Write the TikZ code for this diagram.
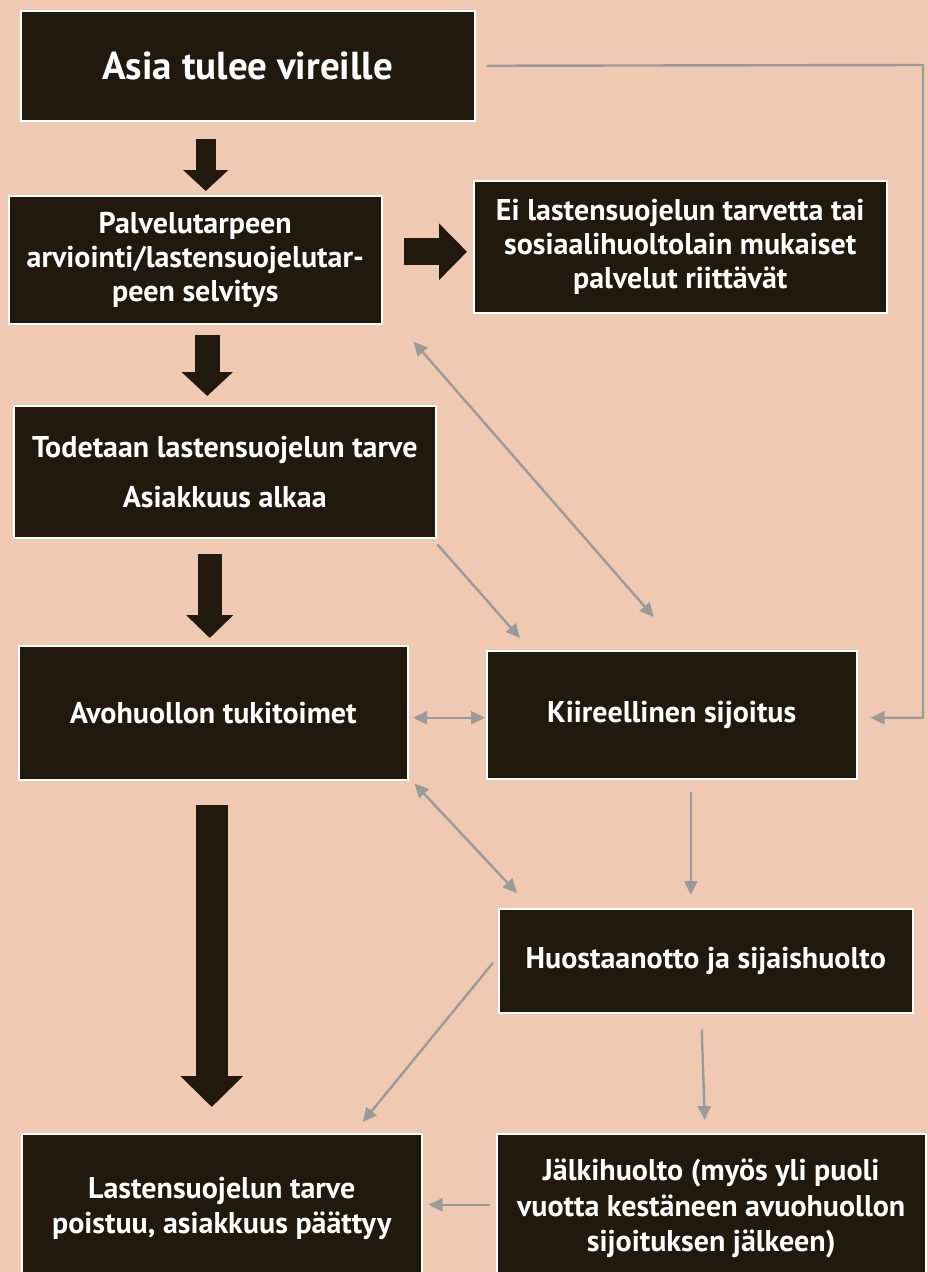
\documentclass[tikz,border=0pt]{standalone}
\usepackage{fontspec}
\setmainfont{PT Sans}
\usetikzlibrary{arrows.meta,calc}
\definecolor{bgc}{HTML}{F0C9B3}
\definecolor{boxc}{HTML}{21180E}
\definecolor{grayc}{HTML}{9A9A9A}
\tikzset{
  box/.style={draw=white, line width=1.5pt, fill=boxc, text=white, anchor=north west,
    inner sep=0pt, align=center, font=\bfseries\fontsize{30}{34}\selectfont},
  barrow/.style={draw=boxc, -{Triangle[width=#1]}},
  garrow/.style={draw=grayc, line width=2.4pt, -{Triangle[width=13pt,length=14pt]}},
  gdarrow/.style={draw=grayc, line width=2.4pt, {Triangle[width=13pt,length=14pt]}-{Triangle[width=13pt,length=14pt]}}
}
\begin{document}
\begin{tikzpicture}[x=1pt,y=-1pt]
\fill[bgc] (0,0) rectangle (928,1272);
\useasboundingbox (0,0) rectangle (928,1272);
\clip (0,0) rectangle (928,1272);

\node[box, minimum width=454pt, minimum height=110pt, font=\bfseries\fontsize{39}{44}\selectfont] (b1) at (20,10) {Asia tulee vireille};
\node[box, minimum width=373pt, minimum height=128pt] (b2) at (8,195) {Palvelutarpeen\\arviointi/lastensuojelutar-\\peen selvitys};
\node[box, minimum width=413pt, minimum height=132pt] (b3) at (473,180) {Ei lastensuojelun tarvetta tai\\sosiaalihuoltolain mukaiset\\palvelut riittävät};
\node[box, minimum width=422pt, minimum height=132pt] (b4) at (13,405) {Todetaan lastensuojelun tarve\\[16pt]Asiakkuus alkaa};
\node[box, minimum width=389pt, minimum height=134pt] (b5) at (18,645) {Avohuollon tukitoimet};
\node[box, minimum width=370pt, minimum height=128pt] (b6) at (486,650) {Kiireellinen sijoitus};
\node[box, minimum width=414pt, minimum height=104pt] (b7) at (498,908) {Huostaanotto ja sijaishuolto};
\node[box, minimum width=400pt, minimum height=150pt, font=\bfseries\fontsize{30}{35}\selectfont] (b8) at (21,1133) {Lastensuojelun tarve\\poistuu, asiakkuus päättyy};
\node[box, minimum width=429pt, minimum height=150pt, font=\bfseries\fontsize{30}{35.5}\selectfont] (b9) at (496,1133) {Jälkihuolto (myös yli puoli\\vuotta kestäneen avuohuollon\\sijoituksen jälkeen)};

% block arrows
\draw[barrow={44pt,length=21pt}, line width=20pt] ($(b1.south)+(-42,17)$) -- ($(b2.north)+(10.5,-4)$);
\draw[barrow={55pt,length=28pt}, line width=27pt] ($(b2.east)+(21,-8)$) -- ($(b3.west)+(-6,5)$);
\draw[barrow={50pt,length=24pt}, line width=25pt] ($(b2.south)+(12,10)$) -- ($(b4.north)+(-17.5,-9)$);
\draw[barrow={46pt,length=23pt}, line width=24pt] ($(b4.south)+(-15,15)$) -- ($(b5.north)+(-3.5,-7)$);
\draw[barrow={61pt,length=31pt}, line width=32pt] ($(b5.south)+(-1.5,24)$) -- ($(b8.north)+(-10,-26)$);

% gray connectors
\coordinate (rt) at (923,65);
\draw[garrow] ($(b1.east)+(11,0)$) -- (rt) |- ($(b6.east)+(13,3)$);
\draw[gdarrow] ($(b2.south east)+(31,17)$) -- ($(b6.north)+(-18,-33)$);
\draw[garrow] ($(b4.south east)+(1,6)$) -- ($(b6.north west)+(34,-12)$);
\draw[gdarrow] ($(b6.west)+(-73,3)$) -- ($(b6.west)+(-1,3)$);
\draw[garrow] ($(b6.south)+(19,12)$) -- ($(b7.north)+(-15,-13)$);
\draw[gdarrow] ($(b5.south east)+(6,3)$) -- ($(b7.north west)+(19,-15)$);
\draw[garrow] ($(b7.west)+(-5,2)$) -- ($(b8.north)+(141,-11)$);
\draw[garrow] ($(b7.south)+(-4,16)$) -- ($(b9.north)+(-6.5,-13)$);
\draw[garrow] ($(b9.west)+(-6,-4)$) -- ($(b8.east)+(6,-4)$);
\end{tikzpicture}
\end{document}
